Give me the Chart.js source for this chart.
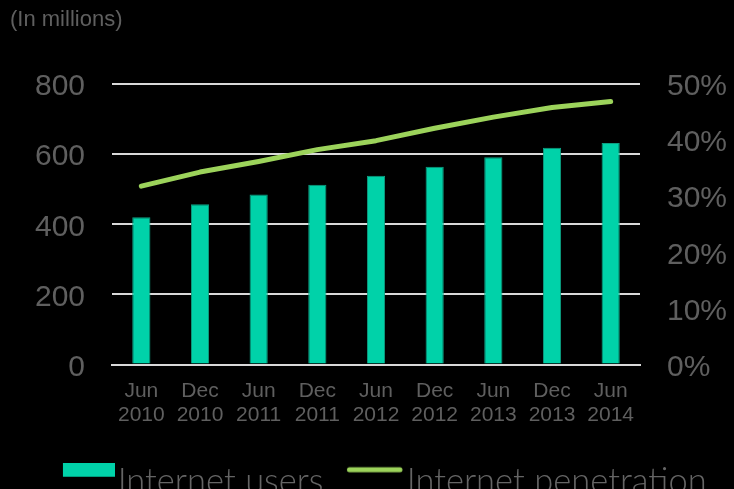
<!DOCTYPE html>
<html>
<head>
<meta charset="utf-8">
<script src="https://cdn.jsdelivr.net/npm/chart.js@4.4.1/dist/chart.umd.min.js"></script>
<style>
  html, body { margin: 0; padding: 0; background: #000; overflow: hidden; }
  #wrap { width: 734px; height: 489px; overflow: hidden; }
  #box { position: relative; width: 734px; height: 509px; }
</style>
</head>
<body>
<div id="wrap"><div id="box"><canvas id="chart"></canvas></div></div>
<script>
// half-year periods, internet users (millions) and penetration rate (%)
const periods = [
  ['Jun', '2010'], ['Dec', '2010'], ['Jun', '2011'], ['Dec', '2011'], ['Jun', '2012'],
  ['Dec', '2012'], ['Jun', '2013'], ['Dec', '2013'], ['Jun', '2014']
];
const users = [420, 457, 485, 513, 538, 564, 591, 618, 632];
const penetration = [31.8, 34.3, 36.2, 38.3, 39.9, 42.1, 44.1, 45.8, 46.9];
const userTicks = [0, 200, 400, 600, 800];
const rateTicks = [0, 10, 20, 30, 40, 50];

const TEAL = '#00d2a9';
const GREEN = '#9cd35b';
const GREY = '#5f5f5f';
const GRID = '#d9d9d9';

// legend markers: drawn into small canvases so they sit a bit higher than the text middle
function makeMark(w, h, draw) {
  const c = document.createElement('canvas');
  c.width = w;
  c.height = h;
  draw(c.getContext('2d'));
  return c;
}
const boxMark = makeMark(92, 38, (g) => {
  g.fillStyle = TEAL;
  g.fillRect(40, 0, 52, 14);
});
const lineMark = makeMark(92, 38, (g) => {
  g.strokeStyle = GREEN;
  g.lineWidth = 5;
  g.lineCap = 'round';
  g.beginPath();
  g.moveTo(37.5, 7);
  g.lineTo(88, 7);
  g.stroke();
});
const legendMarks = [boxMark, lineMark];

const tickFont = { family: '"Liberation Sans", Arial, sans-serif', size: 30 };

new Chart(document.getElementById('chart'), {
  data: {
    labels: periods,
    datasets: [{
      type: 'bar',
      label: 'Internet users',
      data: users,
      yAxisID: 'y',
      backgroundColor: TEAL,
      borderColor: '#0e9f82',
      borderWidth: 1,
      barPercentage: 0.31,
      categoryPercentage: 1,
      order: 1
    }, {
      type: 'line',
      label: 'Internet penetration',
      data: penetration,
      yAxisID: 'y1',
      borderColor: GREEN,
      backgroundColor: GREEN,
      borderWidth: 5,
      borderCapStyle: 'round',
      borderJoinStyle: 'round',
      pointRadius: 0,
      tension: 0,
      order: 0
    }]
  },
  options: {
    responsive: true,
    maintainAspectRatio: false,
    animation: false,
    layout: { padding: { left: 10, right: 0, top: 0, bottom: 0 } },
    scales: {
      x: {
        grid: { display: false, drawTicks: false },
        border: { display: true, color: GRID, width: 2 },
        ticks: {
          color: GREY,
          padding: 14,
          maxRotation: 0,
          autoSkip: false,
          font: { family: '"Liberation Sans", Arial, sans-serif', size: 21, lineHeight: 1.17 }
        },
        afterFit: (s) => { s.height = 97; }
      },
      y: {
        position: 'left',
        min: 0,
        max: 800,
        afterBuildTicks: (s) => { s.ticks = userTicks.map((v) => ({ value: v })); },
        grid: { color: GRID, lineWidth: 2, drawTicks: false },
        border: { display: false },
        ticks: { color: GREY, padding: 27, labelOffset: 3, font: tickFont },
        afterFit: (s) => { s.width = 102; }
      },
      y1: {
        position: 'right',
        min: 0,
        max: 50,
        afterBuildTicks: (s) => { s.ticks = rateTicks.map((v) => ({ value: v })); },
        grid: { display: false, drawTicks: false },
        border: { display: false },
        ticks: { color: GREY, padding: 27, labelOffset: 3, font: tickFont, callback: (v) => v + '%' },
        afterFit: (s) => { s.width = 94; }
      }
    },
    plugins: {
      title: {
        display: true,
        text: '(In millions)',
        align: 'start',
        color: GREY,
        font: { family: '"Liberation Sans", Arial, sans-serif', size: 22, weight: 'normal', lineHeight: 1.2 },
        padding: { top: 7, bottom: 50.6 }
      },
      legend: {
        position: 'bottom',
        align: 'center',
        labels: {
          usePointStyle: true,
          pointStyleWidth: 63,
          boxHeight: 14,
          padding: 3,
          color: '#656565',
          font: { family: 'Lato, "Open Sans", sans-serif', size: 34.5, weight: 300 },
          sort: (a, b) => a.datasetIndex - b.datasetIndex,
          generateLabels: (chart) => {
            const items = Chart.defaults.plugins.legend.labels.generateLabels(chart);
            items.forEach((it) => { it.pointStyle = legendMarks[it.datasetIndex]; });
            return items;
          }
        }
      },
      tooltip: { enabled: false }
    }
  }
});
</script>
</body>
</html>
